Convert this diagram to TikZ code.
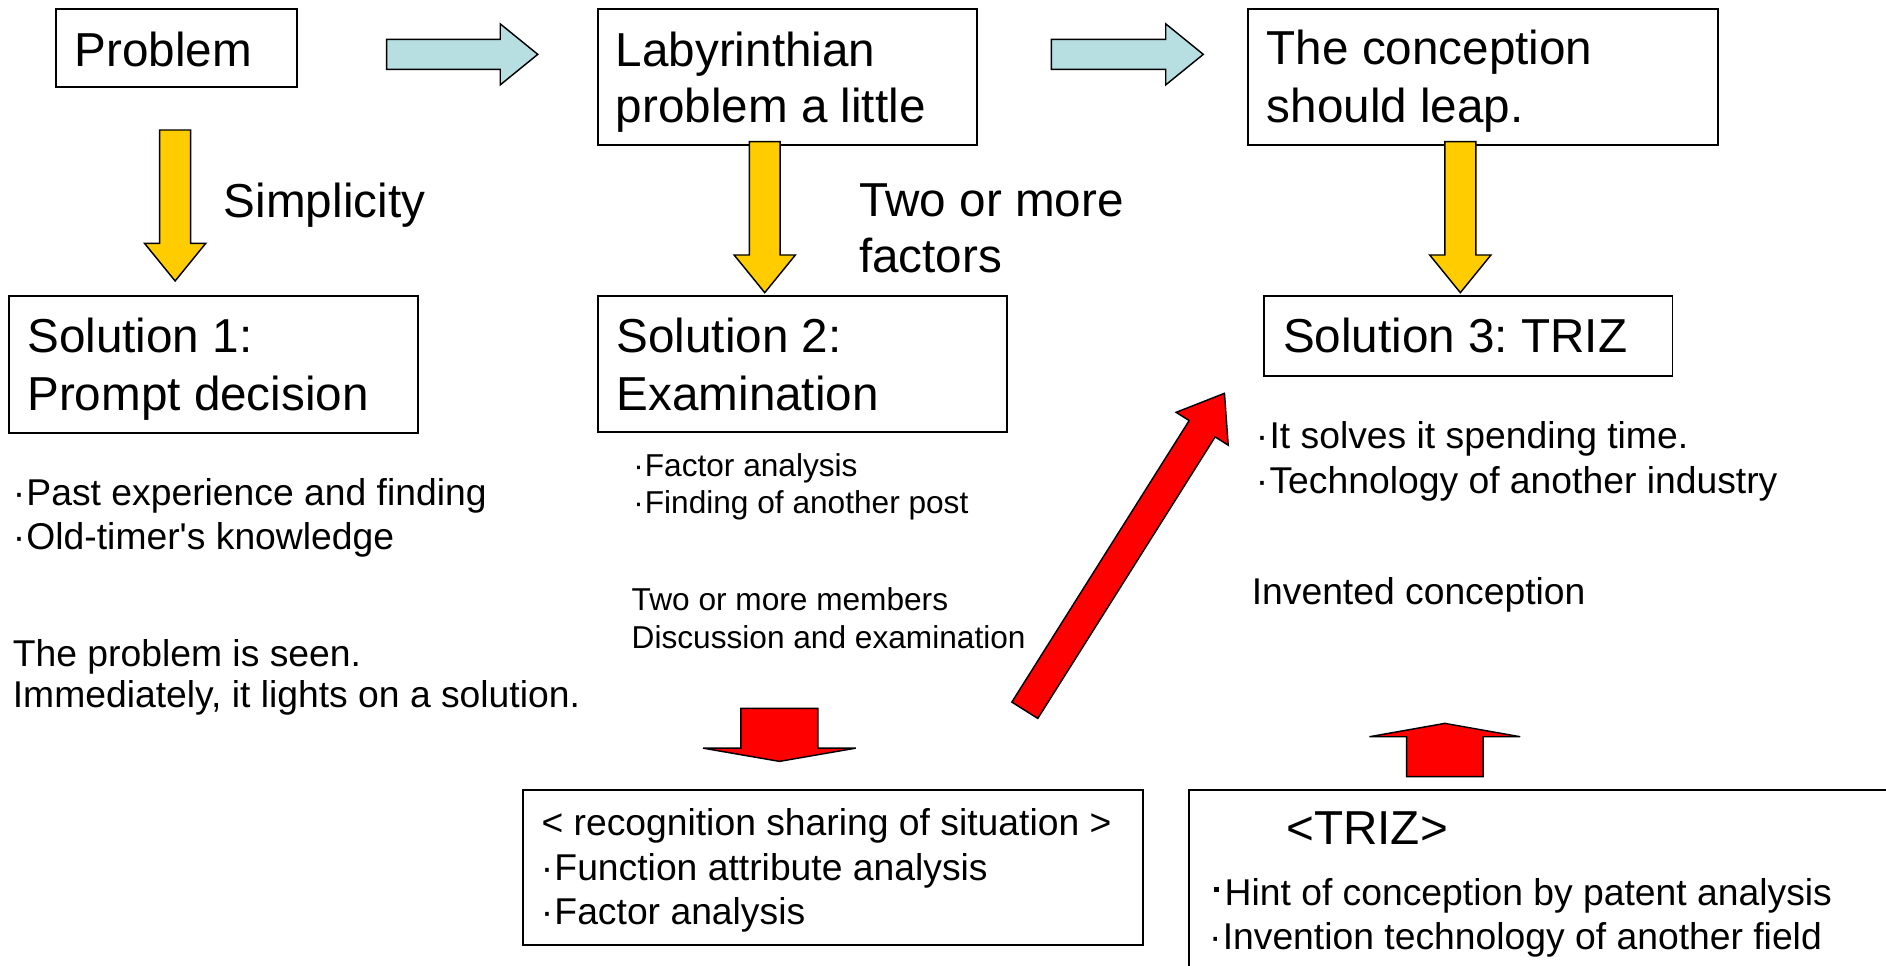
\documentclass[tikz,border=0pt]{standalone}
\usepackage{fontspec}
\setmainfont{Liberation Sans}[Ligatures=TeXOff]
\usetikzlibrary{calc}

\definecolor{flowcyan}{RGB}{183,222,225}
\definecolor{flowyellow}{RGB}{255,204,0}
\definecolor{flowred}{RGB}{255,0,0}

% bullets used in the lists
\newcommand\bul{\makebox[0.4em][c]{·}}
\newcommand\sqbul{\makebox[0.45em][c]{\raisebox{0.36em}{\rule{0.13em}{0.13em}}}}

% block arrow: style, tail, tip, shaft half-width, head half-width, head length
\newcommand\blockarrow[6]{%
  \coordinate (#2-neck) at ($(#3)!#6!(#2)$);
  \draw[#1] ($(#2)!#4!90:(#3)$) -- ($(#2-neck)!#4!90:(#3)$)
    -- ($(#2-neck)!#5!90:(#3)$) -- (#3)
    -- ($(#2-neck)!#5!-90:(#3)$) -- ($(#2-neck)!#4!-90:(#3)$)
    -- ($(#2)!#4!-90:(#3)$) -- cycle;
}

\tikzset{
  box/.style={draw=black, line width=1.5pt, fill=white, inner sep=0pt},
  txt/.style={anchor=base west, inner sep=0pt, text=black},
  big/.style={txt, font=\fontsize{39.6}{47}\selectfont},
  mid/.style={txt, font=\fontsize{31}{36}\selectfont},
  small/.style={txt, font=\fontsize{26.3}{31}\selectfont},
  cyanarrow/.style={draw=black, line width=1.2pt, fill=flowcyan, line join=miter},
  yellowarrow/.style={draw=black, line width=1.2pt, fill=flowyellow, line join=miter},
  redarrow/.style={draw=black, line width=1.2pt, fill=flowred, line join=miter},
}

\frenchspacing
\begin{document}
\begin{tikzpicture}[x=1pt, y=-1pt]
\useasboundingbox (0,0) rectangle (1568,803);

% ---- boxes ----
\node[box, minimum width=200.2pt, minimum height=65.1pt] (prob) at (146.5,40) {};
\node[box, minimum width=314.8pt, minimum height=113.1pt] (laby) at (654.6,64) {};
\node[box, minimum width=390.3pt, minimum height=113.1pt] (conc) at (1232.9,64) {};
\node[box, minimum width=340.3pt, minimum height=113.6pt] (sol1) at (177.4,302.9) {};
\node[box, minimum width=340.4pt, minimum height=112.9pt] (sol2) at (667.2,302.5) {};
\node[box, minimum width=339.6pt, minimum height=66.5pt] (sol3) at (1220.6,279.4) {};
\node[box, minimum width=515.7pt, minimum height=128.9pt] (recog) at (692.4,721.3) {};
\begin{scope}
  \clip (0,0) rectangle (1568,803);
  \node[box, minimum width=600pt, minimum height=170pt, anchor=north west] (triz) at (988,656.2) {};
\end{scope}

% ---- box texts ----
\node[big] (tprob) at (61.7,54.9) {Problem};
\node[big] (tlaby1) at (511.8,55.4) {Labyrinthian};
\node[big] (tlaby2) at (511.8,102) {problem a little};
\node[big] (tconc1) at (1053,54) {The conception};
\node[big] (tconc2) at (1053,102) {should leap.};
\node[big] (tsol1a) at (22.5,293.2) {Solution 1:};
\node[big] (tsol1b) at (22.5,340.9) {Prompt decision};
\node[big] (tsol2a) at (512.5,293.2) {Solution 2:};
\node[big] (tsol2b) at (512.5,340.9) {Examination};
\node[big] (tsol3) at (1066.6,293.2) {Solution 3: TRIZ};

% ---- arrow labels ----
\node[big] (lsimp) at (186,180.7) {Simplicity};
\node[big] (ltwo1) at (714,180.1) {Two or more};
\node[big] (ltwo2) at (714,226.7) {factors};

% ---- notes under the solutions ----
\node[mid] (n1a) at (9.4,420) {\bul Past experience and finding};
\node[mid] (n1b) at (9.4,457) {\bul Old-timer's knowledge};
\node[mid] (n1c) at (10.5,554) {The problem is seen.};
\node[mid] (n1d) at (10.5,588) {Immediately, it lights on a solution.};

\node[small] (n2a) at (525.4,396.3) {\bul Factor analysis};
\node[small] (n2b) at (525.4,427.3) {\bul Finding of another post};
\node[small] (n2c) at (525,507.2) {Two or more members};
\node[small] (n2d) at (525,539) {Discussion and examination};

\node[mid] (n3a) at (1042.9,372.5) {\bul It solves it spending time.};
\node[mid] (n3b) at (1042.9,410) {\bul Technology of another industry};
\node[mid] (n3c) at (1040.5,502.6) {Invented conception};

% ---- lower boxes ----
\node[mid] (r1) at (450,694.5) {< recognition sharing of situation >};
\node[mid] (r2) at (448.4,732) {\bul Function attribute analysis};
\node[mid] (r3) at (448.4,769) {\bul Factor analysis};

\node[big] (z0) at (1069.3,702.5) {<TRIZ>};
\node[mid] (z1) at (1004,753) {\sqbul Hint of conception by patent analysis};
\node[mid] (z2) at (1004,789) {\bul Invention technology of another field};

% ---- arrow end points ----
\coordinate (c1s) at (321.5,45.2);   \coordinate (c1e) at (447.1,45.2);
\coordinate (c2s) at (874.1,45.2);   \coordinate (c2e) at (1000.4,45.2);
\coordinate (y1s) at (145.6,108.1);  \coordinate (y1e) at (145.6,233.6);
\coordinate (y2s) at (635.8,117.8);  \coordinate (y2e) at (635.8,243.3);
\coordinate (y3s) at (1214.1,117.8); \coordinate (y3e) at (1214.1,243.3);
\coordinate (rds) at (852,590.5);    \coordinate (rde) at (1018,327);
\coordinate (rvs) at (648,589);      \coordinate (rve) at (648,633);
\coordinate (rus) at (1201.2,645.7); \coordinate (rue) at (1201.2,601.4);

% ---- block arrows ----
\blockarrow{cyanarrow}{c1s}{c1e}{12.45pt}{25.35pt}{31.2pt}
\blockarrow{cyanarrow}{c2s}{c2e}{12.45pt}{25.35pt}{31.2pt}
\blockarrow{yellowarrow}{y1s}{y1e}{12.85pt}{25.45pt}{31.3pt}
\blockarrow{yellowarrow}{y2s}{y2e}{12.85pt}{25.45pt}{31.3pt}
\blockarrow{yellowarrow}{y3s}{y3e}{12.85pt}{25.45pt}{31.3pt}
\blockarrow{redarrow}{rds}{rde}{12.75pt}{25.6pt}{34.8pt}
\blockarrow{redarrow}{rvs}{rve}{32pt}{63.5pt}{11pt}
\blockarrow{redarrow}{rus}{rue}{31.8pt}{62.65pt}{11.1pt}
\end{tikzpicture}
\end{document}
